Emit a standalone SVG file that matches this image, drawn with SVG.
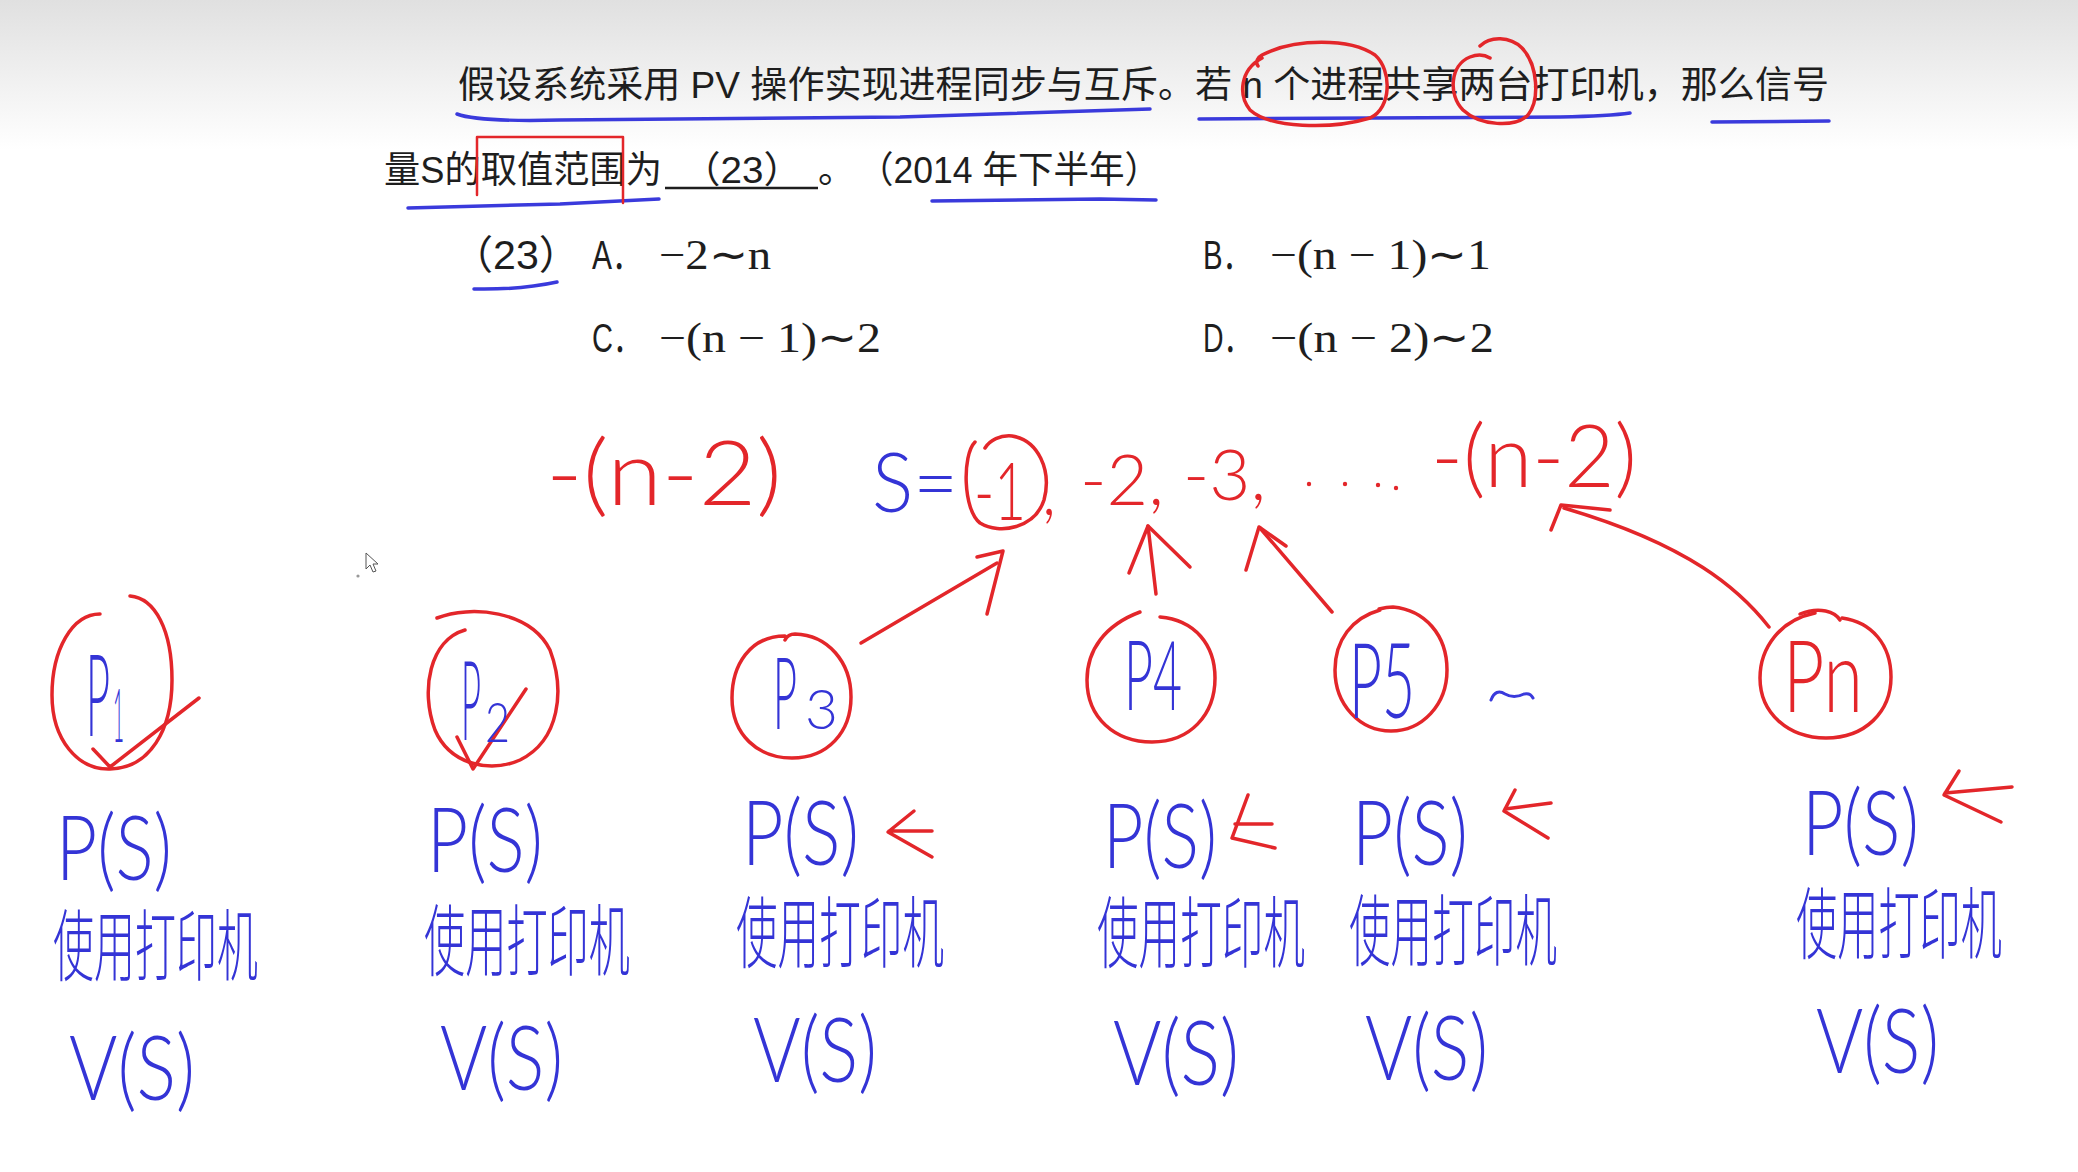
<svg xmlns="http://www.w3.org/2000/svg" width="2078" height="1172" viewBox="0 0 2078 1172">
<defs>
<linearGradient id="topfade" x1="0" y1="0" x2="0" y2="1">
<stop offset="0" stop-color="#e0e0e0"/>
<stop offset="1" stop-color="#ffffff"/>
</linearGradient>
</defs>
<style>
.pt{fill:#1e1e1e;font-family:"Liberation Sans","Noto Sans CJK SC",sans-serif;font-size:37px}
.op{fill:#1e1e1e;font-family:"Liberation Serif","Noto Sans CJK SC",serif;font-size:42px}
.ol{fill:#1e1e1e;font-family:"Liberation Sans","Noto Sans CJK SC",sans-serif;font-size:40px}
.hb{fill:#3434d6;font-family:Lato,"Noto Sans CJK SC",sans-serif;font-weight:300}
.hr{fill:#e3262a;font-family:Lato,"Noto Sans CJK SC",sans-serif;font-weight:300}
.cj{fill:#3434d6;font-family:"Noto Sans CJK SC",sans-serif;font-weight:300;font-size:78px}
.rs{fill:none;stroke:#e3262a;stroke-width:3.5;stroke-linecap:round;stroke-linejoin:round}
.bs{fill:none;stroke:#3a3adc;stroke-width:3.5;stroke-linecap:round;stroke-linejoin:round}
</style>
<rect x="0" y="0" width="2078" height="1172" fill="#ffffff"/>
<rect x="0" y="0" width="2078" height="150" fill="url(#topfade)"/>

<g id="question">
<text class="pt" x="458" y="98" textLength="1371" lengthAdjust="spacingAndGlyphs">假设系统采用 PV 操作实现进程同步与互斥。若 n 个进程共享两台打印机，那么信号</text>
<text class="pt" x="384" y="183" textLength="278" lengthAdjust="spacingAndGlyphs">量S的取值范围为</text>
<text class="pt" x="682" y="183" textLength="120" lengthAdjust="spacingAndGlyphs">（23）</text>
<line x1="665" y1="188" x2="818" y2="188" stroke="#1e1e1e" stroke-width="2.5"/>
<text class="pt" x="818" y="183">。</text>
<text class="pt" x="858" y="183" textLength="302" lengthAdjust="spacingAndGlyphs">（2014 年下半年）</text>
</g>

<g id="options">
<text class="ol" x="452" y="269" textLength="128" lengthAdjust="spacingAndGlyphs">（23）</text>
<text class="ol" x="592" y="269" textLength="50" lengthAdjust="spacingAndGlyphs">A．</text>
<text class="op" x="659" y="269" textLength="112" lengthAdjust="spacingAndGlyphs">−2∼n</text>
<text class="ol" x="1203" y="269" textLength="49" lengthAdjust="spacingAndGlyphs">B．</text>
<text class="op" x="1270" y="269" textLength="221" lengthAdjust="spacingAndGlyphs">−(n − 1)∼1</text>
<text class="ol" x="592" y="352" textLength="50" lengthAdjust="spacingAndGlyphs">C．</text>
<text class="op" x="659" y="352" textLength="222" lengthAdjust="spacingAndGlyphs">−(n − 1)∼2</text>
<text class="ol" x="1203" y="352" textLength="49" lengthAdjust="spacingAndGlyphs">D．</text>
<text class="op" x="1270" y="352" textLength="224" lengthAdjust="spacingAndGlyphs">−(n − 2)∼2</text>
</g>

<g id="annotations">
<path class="bs" d="M457,114 Q478,122 560,120 L900,117 Q1050,112 1150,109"/>
<path class="bs" d="M1199,119 L1560,117 Q1610,116 1630,113"/>
<path class="bs" d="M1712,122 L1829,121"/>
<path class="bs" d="M408,208 L560,204 L659,199"/>
<path class="bs" d="M932,201 L1100,199 L1156,200"/>
<path class="bs" d="M474,289 Q520,290 557,282"/>
<path class="rs" d="M1262,58 C1240,70 1238,95 1250,110 C1270,128 1330,130 1370,118 C1392,108 1392,70 1375,55 C1350,38 1295,38 1262,55 C1258,57 1255,62 1258,66"/>
<path class="rs" d="M1480,46 C1490,36 1510,36 1522,48 C1538,65 1540,100 1528,115 C1515,128 1480,126 1463,110 C1448,95 1450,65 1470,57 C1478,54 1485,55 1490,58"/>
<path class="rs" style="stroke-width:2.5" d="M477,195 L477,137 L623,137 L623,203"/>
</g>

<g id="sequence">
<text class="hr" x="546" y="505" font-size="90" textLength="236" lengthAdjust="spacingAndGlyphs">-(n-2)</text>
<text class="hb" x="872" y="512" font-size="82" textLength="86" lengthAdjust="spacingAndGlyphs">S=</text>
<path class="rs" d="M975,442 C962,455 963,510 980,523 C1000,535 1035,528 1044,500 C1052,470 1038,440 1012,436 C1000,435 990,440 985,448"/>
<text class="hr" x="974" y="520" font-size="80" textLength="52" lengthAdjust="spacingAndGlyphs">-1</text>
<text class="hr" x="1042" y="515" font-size="70" textLength="14" lengthAdjust="spacingAndGlyphs">,</text>
<text class="hr" x="1080" y="505" font-size="70" textLength="84" lengthAdjust="spacingAndGlyphs">-2,</text>
<text class="hr" x="1183" y="500" font-size="70" textLength="83" lengthAdjust="spacingAndGlyphs">-3,</text>
<circle cx="1309" cy="484" r="2.2" fill="#e3262a"/>
<circle cx="1345" cy="484" r="2.2" fill="#e3262a"/>
<circle cx="1378" cy="485" r="2.2" fill="#e3262a"/>
<circle cx="1396" cy="488" r="2.2" fill="#e3262a"/>
<text class="hr" x="1431" y="487" font-size="86" textLength="206" lengthAdjust="spacingAndGlyphs">-(n-2)</text>
</g>

<g id="connectors">
<path class="rs" d="M861,643 L997,563"/>
<path class="rs" d="M977,557 L1003,551 L987,614"/>
<path class="rs" d="M1156,594 L1148,526"/>
<path class="rs" d="M1129,573 L1148,526 L1190,567"/>
<path class="rs" d="M1332,612 L1260,528"/>
<path class="rs" d="M1246,570 L1259,527 L1286,546"/>
<path class="rs" d="M1769,627 C1740,590 1690,545 1564,508"/>
<path class="rs" d="M1551,530 L1561,505 L1610,510"/>
</g>

<g id="p1">
<path class="rs" d="M100,614 C72,614 52,650 52,695 C52,740 78,770 110,769 C150,768 172,730 172,680 C172,630 155,598 130,596"/>
<path class="rs" d="M93,749 L110,767 L199,698"/>
<text class="hb" x="86" y="736" font-size="115" textLength="24" lengthAdjust="spacingAndGlyphs">P</text>
<text class="hb" x="113" y="742" font-size="75" textLength="11" lengthAdjust="spacingAndGlyphs">1</text>
</g>
<g id="p2">
<path class="rs" d="M437,618 C470,605 530,610 550,650 C565,690 560,740 520,760 C490,773 450,765 435,730 C420,690 430,640 465,630"/>
<path class="rs" d="M457,737 L473,769 L526,689"/>
<text class="hb" x="461" y="740" font-size="110" textLength="20" lengthAdjust="spacingAndGlyphs">P</text>
<text class="hb" x="485" y="742" font-size="56" textLength="25" lengthAdjust="spacingAndGlyphs">2</text>
</g>
<g id="p3">
<path class="rs" d="M785,636 C750,636 732,665 732,698 C732,735 758,758 792,758 C828,758 851,732 851,697 C851,662 828,635 795,634 C790,634 787,636 785,640"/>
<text class="hb" x="773" y="729" font-size="100" textLength="24" lengthAdjust="spacingAndGlyphs">P</text>
<text class="hb" x="805" y="729" font-size="56" textLength="33" lengthAdjust="spacingAndGlyphs">3</text>
</g>
<g id="p4">
<path class="rs" d="M1140,612 C1105,625 1087,650 1087,680 C1087,718 1115,742 1152,742 C1190,742 1215,715 1215,678 C1215,645 1195,620 1160,617"/>
<text class="hb" x="1124" y="710" font-size="97" textLength="58" lengthAdjust="spacingAndGlyphs">P4</text>
</g>
<g id="p5">
<path class="rs" d="M1380,610 C1352,618 1335,640 1335,670 C1335,705 1360,731 1391,731 C1422,731 1447,705 1447,670 C1447,635 1425,610 1393,607 C1387,607 1383,608 1379,609"/>
<text class="hb" x="1349" y="718" font-size="105" textLength="66" lengthAdjust="spacingAndGlyphs">P5</text>
<path class="bs" style="stroke-width:3" d="M1491,700 C1494,692 1499,690 1505,694 C1512,698 1518,697 1524,694 C1528,693 1531,694 1533,698"/>
</g>
<g id="pn">
<path class="rs" d="M1815,613 C1780,620 1760,648 1760,678 C1760,713 1788,738 1826,738 C1865,738 1891,712 1891,677 C1891,645 1872,622 1842,618"/>
<path class="rs" d="M1800,614 C1820,606 1835,612 1840,620"/>
<text class="hr" x="1783" y="712" font-size="100" textLength="80" lengthAdjust="spacingAndGlyphs">Pn</text>
</g>

<g id="col1">
<text class="hb" x="56" y="880" font-size="90" textLength="116" lengthAdjust="spacingAndGlyphs">P(S)</text>
<text class="cj" x="53" y="975" textLength="205" lengthAdjust="spacingAndGlyphs">使用打印机</text>
<text class="hb" x="69" y="1100" font-size="90" textLength="126" lengthAdjust="spacingAndGlyphs">V(S)</text>
</g>
<g id="col2">
<text class="hb" x="427" y="872" font-size="90" textLength="116" lengthAdjust="spacingAndGlyphs">P(S)</text>
<text class="cj" x="424" y="970" textLength="206" lengthAdjust="spacingAndGlyphs">使用打印机</text>
<text class="hb" x="440" y="1090" font-size="90" textLength="123" lengthAdjust="spacingAndGlyphs">V(S)</text>
</g>
<g id="col3">
<text class="hb" x="742" y="865" font-size="90" textLength="117" lengthAdjust="spacingAndGlyphs">P(S)</text>
<path class="rs" d="M914,811 L888,832 L932,857 M889,831 L932,831"/>
<text class="cj" x="736" y="962" textLength="208" lengthAdjust="spacingAndGlyphs">使用打印机</text>
<text class="hb" x="753" y="1082" font-size="90" textLength="124" lengthAdjust="spacingAndGlyphs">V(S)</text>
</g>
<g id="col4">
<text class="hb" x="1103" y="868" font-size="90" textLength="114" lengthAdjust="spacingAndGlyphs">P(S)</text>
<path class="rs" d="M1248,795 L1232,838 L1275,848 M1235,824 L1272,824"/>
<text class="cj" x="1097" y="962" textLength="208" lengthAdjust="spacingAndGlyphs">使用打印机</text>
<text class="hb" x="1113" y="1085" font-size="90" textLength="126" lengthAdjust="spacingAndGlyphs">V(S)</text>
</g>
<g id="col5">
<text class="hb" x="1352" y="865" font-size="90" textLength="116" lengthAdjust="spacingAndGlyphs">P(S)</text>
<path class="rs" d="M1515,790 L1504,811 L1548,838 M1505,809 L1551,803"/>
<text class="cj" x="1349" y="960" textLength="208" lengthAdjust="spacingAndGlyphs">使用打印机</text>
<text class="hb" x="1365" y="1080" font-size="90" textLength="123" lengthAdjust="spacingAndGlyphs">V(S)</text>
</g>
<g id="col6">
<text class="hb" x="1802" y="855" font-size="90" textLength="117" lengthAdjust="spacingAndGlyphs">P(S)</text>
<path class="rs" d="M1959,771 L1944,795 L2001,822 M1945,793 L2012,787"/>
<text class="cj" x="1796" y="953" textLength="206" lengthAdjust="spacingAndGlyphs">使用打印机</text>
<text class="hb" x="1816" y="1073" font-size="90" textLength="123" lengthAdjust="spacingAndGlyphs">V(S)</text>
</g>

<g id="cursor">
<polygon points="366,553 366,569 370,565 373,572 376,571 373,564 378,564" fill="#ffffff" stroke="#555555" stroke-width="1"/>
<circle cx="358" cy="576" r="1.6" fill="#999999"/>
</g>
</svg>
